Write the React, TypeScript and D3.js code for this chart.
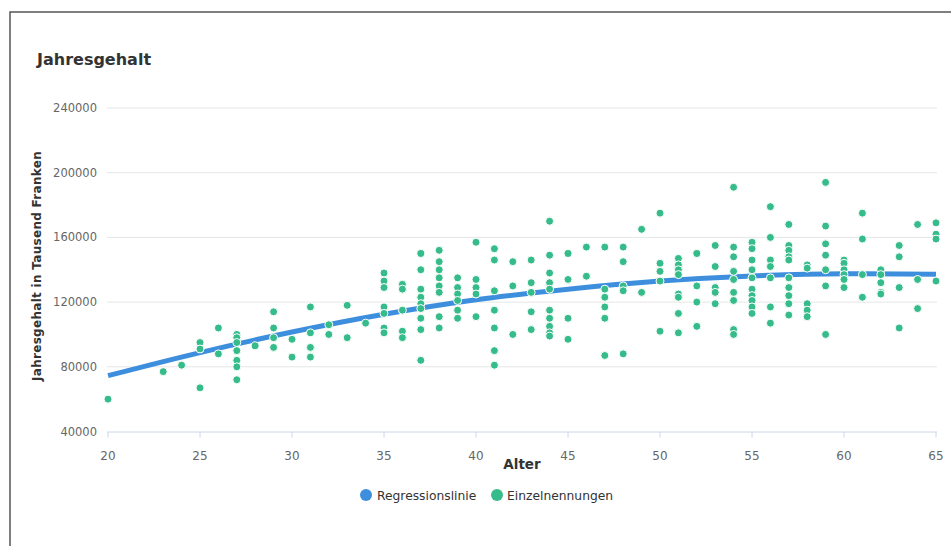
import React from "react";
import * as d3 from "d3";

const regAlter = [20, 25, 30, 35, 40, 45, 50, 55, 60, 65];
const regWerte = [74500, 88800, 101500, 112500, 121500, 128000, 133000, 136200, 137500, 137200];

// Einzelnennungen pro Alter
const einzelnennungen = [
  { alter: 20, werte: [60000] },
  { alter: 23, werte: [77000] },
  { alter: 24, werte: [81000] },
  { alter: 25, werte: [95000, 91000, 67000] },
  { alter: 26, werte: [104000, 88000] },
  { alter: 27, werte: [100000, 98000, 95000, 90000, 84000, 80000, 72000] },
  { alter: 28, werte: [93000] },
  { alter: 29, werte: [114000, 104000, 98000, 92000] },
  { alter: 30, werte: [97000, 86000] },
  { alter: 31, werte: [117000, 101000, 92000, 86000] },
  { alter: 32, werte: [106000, 100000] },
  { alter: 33, werte: [118000, 98000] },
  { alter: 34, werte: [107000] },
  { alter: 35, werte: [138000, 133000, 129000, 117000, 113000, 104000, 101000] },
  { alter: 36, werte: [131000, 128000, 115000, 102000, 98000] },
  { alter: 37, werte: [150000, 140000, 128000, 123000, 119000, 116000, 110000, 103000, 84000] },
  { alter: 38, werte: [152000, 145000, 140000, 135000, 130000, 126000, 111000, 104000] },
  { alter: 39, werte: [135000, 129000, 125000, 121000, 115000, 110000] },
  { alter: 40, werte: [157000, 134000, 129000, 125000, 111000] },
  { alter: 41, werte: [153000, 146000, 127000, 115000, 104000, 90000, 81000] },
  { alter: 42, werte: [145000, 130000, 100000] },
  { alter: 43, werte: [146000, 132000, 126000, 114000, 103000] },
  { alter: 44, werte: [170000, 149000, 138000, 132000, 128000, 115000, 110000, 105000, 101000, 99000] },
  { alter: 45, werte: [150000, 134000, 110000, 97000] },
  { alter: 46, werte: [154000, 136000] },
  { alter: 47, werte: [154000, 128000, 123000, 117000, 110000, 87000] },
  { alter: 48, werte: [154000, 145000, 130000, 127000, 88000] },
  { alter: 49, werte: [165000, 126000] },
  { alter: 50, werte: [175000, 144000, 139000, 133000, 102000] },
  { alter: 51, werte: [147000, 143000, 140000, 137000, 125000, 123000, 113000, 101000] },
  { alter: 52, werte: [150000, 130000, 120000, 105000] },
  { alter: 53, werte: [155000, 142000, 129000, 126000, 119000] },
  { alter: 54, werte: [191000, 154000, 148000, 139000, 134000, 126000, 121000, 103000, 100000] },
  { alter: 55, werte: [157000, 153000, 146000, 140000, 135000, 128000, 124000, 121000, 117000, 113000] },
  { alter: 56, werte: [179000, 160000, 146000, 142000, 135000, 117000, 107000] },
  { alter: 57, werte: [168000, 155000, 152000, 148000, 146000, 135000, 129000, 124000, 119000, 112000] },
  { alter: 58, werte: [143000, 141000, 119000, 115000, 111000] },
  { alter: 59, werte: [194000, 167000, 156000, 149000, 140000, 130000, 100000] },
  { alter: 60, werte: [146000, 144000, 140000, 137000, 134000, 129000] },
  { alter: 61, werte: [175000, 159000, 137000, 123000] },
  { alter: 62, werte: [140000, 137000, 132000, 126000, 125000] },
  { alter: 63, werte: [155000, 148000, 129000, 104000] },
  { alter: 64, werte: [168000, 134000, 116000] },
  { alter: 65, werte: [169000, 162000, 159000, 133000] },
];

const yTicks = [40000, 80000, 120000, 160000, 200000, 240000];
const xTicks = [20, 25, 30, 35, 40, 45, 50, 55, 60, 65];
const legende = ["Regressionslinie", "Einzelnennungen"];

const BLAU = "#3d8fde";
const GRUEN = "#36bb8b";
const FONT = "'DejaVu Sans', sans-serif";

export default function App() {
  const width = 951;
  const height = 546;

  const x = d3.scaleLinear().domain([20, 65]).range([108, 936]);
  const y = d3.scaleLinear().domain([40000, 240000]).range([431.5, 108]);

  const regData = regAlter.map((a, i) => [a, regWerte[i]] as [number, number]);
  const line = d3
    .line<[number, number]>()
    .x((d) => x(d[0]))
    .y((d) => y(d[1]))
    .curve(d3.curveMonotoneX);

  const punkte = einzelnennungen.flatMap((g) => g.werte.map((w) => ({ alter: g.alter, wert: w })));

  return (
    <svg width={width} height={height} style={{ position: "absolute", left: 0, top: 0, background: "#fff" }}>
      <rect x={10} y={12} width={980} height={600} fill="#fff" stroke="#555" strokeWidth={1.5} />

      <text x={37} y={65} fontFamily={FONT} fontWeight="bold" fontSize={16} fill="#333">
        Jahresgehalt
      </text>

      {yTicks.map((t) => (
        <g key={t}>
          {t > 40000 && <line x1={107} x2={937} y1={y(t)} y2={y(t)} stroke="#e6e6e6" strokeWidth={1} />}
          <text x={97} y={y(t) + 4} textAnchor="end" fontFamily={FONT} fontSize={11.5} fill="#666">
            {t}
          </text>
        </g>
      ))}

      <line x1={107} x2={937} y1={y(40000) + 0.5} y2={y(40000) + 0.5} stroke="#ccd6eb" strokeWidth={1} />
      {xTicks.map((t) => (
        <g key={t}>
          <line x1={x(t)} x2={x(t)} y1={y(40000) + 0.5} y2={y(40000) + 6} stroke="#ccd6eb" strokeWidth={1} />
          <text x={x(t)} y={460} textAnchor="middle" fontFamily={FONT} fontSize={12} fill="#666">
            {t}
          </text>
        </g>
      ))}

      <text x={522} y={469} textAnchor="middle" fontFamily={FONT} fontWeight="bold" fontSize={13.5} fill="#333">
        Alter
      </text>
      <text
        transform="translate(41,266) rotate(-90)"
        textAnchor="middle"
        fontFamily={FONT}
        fontWeight="bold"
        fontSize={12}
        letterSpacing={0.3}
        fill="#333"
      >
        Jahresgehalt in Tausend Franken
      </text>

      <path d={line(regData) ?? ""} fill="none" stroke={BLAU} strokeWidth={5} />

      {punkte.map((p, i) => (
        <circle key={i} cx={x(p.alter)} cy={y(p.wert)} r={4} fill={GRUEN} stroke="#fff" strokeWidth={1} />
      ))}

      <circle cx={366} cy={495} r={6} fill={BLAU} />
      <text x={377} y={499.5} fontFamily={FONT} fontSize={12.3} fill="#333">
        {legende[0]}
      </text>
      <circle cx={497} cy={495} r={6} fill={GRUEN} />
      <text x={507} y={499.5} fontFamily={FONT} fontSize={12.3} fill="#333">
        {legende[1]}
      </text>
    </svg>
  );
}
